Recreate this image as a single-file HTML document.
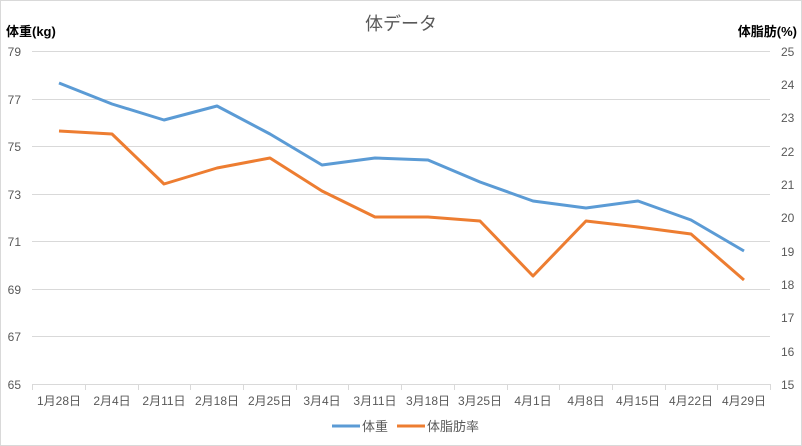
<!DOCTYPE html>
<html><head><meta charset="utf-8"><style>
html,body{margin:0;padding:0;background:#fff}
svg{display:block;font-family:"Liberation Sans","Noto Sans CJK JP",sans-serif}
</style></head><body>
<svg width="802" height="446" viewBox="0 0 802 446" xmlns="http://www.w3.org/2000/svg">
<rect x="0.5" y="0.5" width="801" height="445" fill="#fff" stroke="#d9d9d9"/>
<text x="401" y="30" font-size="18" fill="#595959" text-anchor="middle">体データ</text>
<text x="6" y="36" font-size="13" font-weight="bold" fill="#000">体重(kg)</text>
<text x="797" y="36" font-size="13" font-weight="bold" fill="#000" text-anchor="end">体脂肪(%)</text>
<g stroke="#d9d9d9" stroke-width="1">
<line x1="32" y1="51.5" x2="770" y2="51.5"/>
<line x1="32" y1="99.5" x2="770" y2="99.5"/>
<line x1="32" y1="146.5" x2="770" y2="146.5"/>
<line x1="32" y1="194.5" x2="770" y2="194.5"/>
<line x1="32" y1="241.5" x2="770" y2="241.5"/>
<line x1="32" y1="289.5" x2="770" y2="289.5"/>
<line x1="32" y1="336.5" x2="770" y2="336.5"/>
<line x1="32" y1="384.5" x2="770" y2="384.5"/>
</g>
<g stroke="#d9d9d9">
<line x1="32.5" y1="384" x2="32.5" y2="390"/><line x1="85.5" y1="384" x2="85.5" y2="390"/><line x1="138.5" y1="384" x2="138.5" y2="390"/><line x1="190.5" y1="384" x2="190.5" y2="390"/><line x1="243.5" y1="384" x2="243.5" y2="390"/><line x1="296.5" y1="384" x2="296.5" y2="390"/><line x1="348.5" y1="384" x2="348.5" y2="390"/><line x1="401.5" y1="384" x2="401.5" y2="390"/><line x1="454.5" y1="384" x2="454.5" y2="390"/><line x1="507.5" y1="384" x2="507.5" y2="390"/><line x1="559.5" y1="384" x2="559.5" y2="390"/><line x1="612.5" y1="384" x2="612.5" y2="390"/><line x1="665.5" y1="384" x2="665.5" y2="390"/><line x1="717.5" y1="384" x2="717.5" y2="390"/><line x1="770.5" y1="384" x2="770.5" y2="390"/>
</g>
<g font-size="12" fill="#595959" text-anchor="end">
<text x="21" y="56">79</text><text x="21" y="104">77</text><text x="21" y="151">75</text><text x="21" y="199">73</text><text x="21" y="246">71</text><text x="21" y="294">69</text><text x="21" y="341">67</text><text x="21" y="389">65</text>
</g>
<g font-size="12" fill="#595959" text-anchor="start">
<text x="781" y="56">25</text><text x="781" y="89">24</text><text x="781" y="122">23</text><text x="781" y="156">22</text><text x="781" y="189">21</text><text x="781" y="222">20</text><text x="781" y="256">19</text><text x="781" y="289">18</text><text x="781" y="322">17</text><text x="781" y="356">16</text><text x="781" y="389">15</text>
</g>
<g font-size="12" fill="#595959" text-anchor="middle">
<text x="59" y="405">1月28日</text><text x="112" y="405">2月4日</text><text x="164" y="405">2月11日</text><text x="217" y="405">2月18日</text><text x="270" y="405">2月25日</text><text x="322" y="405">3月4日</text><text x="375" y="405">3月11日</text><text x="428" y="405">3月18日</text><text x="480" y="405">3月25日</text><text x="533" y="405">4月1日</text><text x="586" y="405">4月8日</text><text x="638" y="405">4月15日</text><text x="691" y="405">4月22日</text><text x="744" y="405">4月29日</text>
</g>
<polyline fill="none" stroke="#5b9bd5" stroke-width="3" stroke-linejoin="round" points="59,83 112,104 164,120 217,106 270,134 322,165 375,158 428,160 480,182 533,201 586,208 638,201 691,220 744,251"/>
<polyline fill="none" stroke="#ed7d31" stroke-width="3" stroke-linejoin="round" points="59,131 112,134 164,184 217,168 270,158 322,191 375,217 428,217 480,221 533,276 586,221 638,227 691,234 744,280"/>
<line x1="332" y1="426" x2="360" y2="426" stroke="#5b9bd5" stroke-width="3"/>
<text x="362" y="431" font-size="13" fill="#595959">体重</text>
<line x1="397" y1="426" x2="425" y2="426" stroke="#ed7d31" stroke-width="3"/>
<text x="427" y="431" font-size="13" fill="#595959">体脂肪率</text>
</svg>
</body></html>
